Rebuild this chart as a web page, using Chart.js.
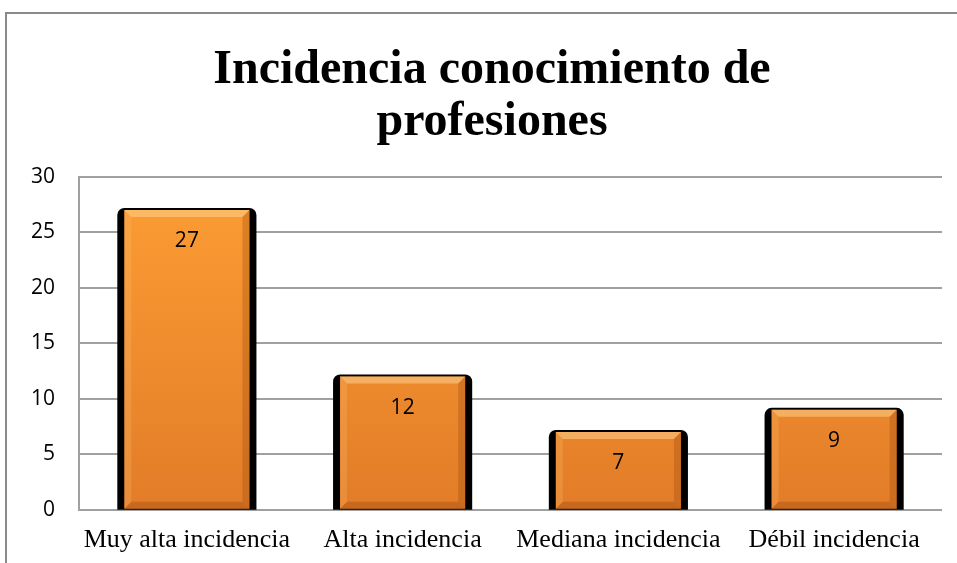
<!DOCTYPE html>
<html>
<head>
<meta charset="utf-8">
<script src="https://cdn.jsdelivr.net/npm/chart.js@4/dist/chart.umd.min.js"></script>
<style>
  body { margin: 0; background: #fff; }
  #frame { position: absolute; left: 5px; top: 12px; width: 960px; height: 560px;
           border-top: 2px solid #8a8a8a; border-left: 2px solid #8a8a8a; }
  #wrap { position: absolute; left: 0; top: 0; width: 957px; height: 563px; }
</style>
</head>
<body>
<div id="frame"></div>
<div id="wrap"><canvas id="chart"></canvas></div>
<script>
const titleLines = ['Incidencia conocimiento de', 'profesiones'];
const categories = ['Muy alta incidencia', 'Alta incidencia', 'Mediana incidencia', 'Débil incidencia'];
const values = [27, 12, 7, 9];
const yTicks = [0, 5, 10, 15, 20, 25, 30];

// the title sits a little right of the canvas centre
const titleShift = {
    id: 'titleShift',
    afterLayout(chart) {
        if (chart.titleBlock) chart.titleBlock.left += 22;
    }
};

// black shadow behind bars, bevel on top, value labels
const barStyle = {
    id: 'barStyle',
    beforeDatasetsDraw(chart) {
        const ctx = chart.ctx;
        chart.getDatasetMeta(0).data.forEach(bar => {
            const p = bar.getProps(['x', 'y', 'base', 'width'], true);
            const l = p.x - p.width / 2 - 7, r = p.x + p.width / 2 + 7;
            ctx.save();
            ctx.fillStyle = '#000';
            ctx.beginPath();
            ctx.roundRect(l, p.y - 2, r - l, p.base - p.y + 3, [7, 7, 0, 0]);
            ctx.fill();
            ctx.restore();
        });
    },
    afterDatasetsDraw(chart) {
        const ctx = chart.ctx;
        chart.getDatasetMeta(0).data.forEach((bar, i) => {
            const p = bar.getProps(['x', 'y', 'base', 'width'], true);
            const l = p.x - p.width / 2, r = p.x + p.width / 2;
            const t = p.y, b = p.base, d = 7;
            ctx.save();
            // top bevel
            ctx.fillStyle = 'rgba(255,215,150,0.5)';
            ctx.beginPath();
            ctx.moveTo(l, t); ctx.lineTo(r, t); ctx.lineTo(r - d, t + d); ctx.lineTo(l + d, t + d);
            ctx.closePath(); ctx.fill();
            // left bevel
            ctx.fillStyle = 'rgba(255,190,110,0.25)';
            ctx.beginPath();
            ctx.moveTo(l, t); ctx.lineTo(l + d, t + d); ctx.lineTo(l + d, b - d); ctx.lineTo(l, b);
            ctx.closePath(); ctx.fill();
            // right bevel
            ctx.fillStyle = 'rgba(150,70,10,0.3)';
            ctx.beginPath();
            ctx.moveTo(r, t); ctx.lineTo(r - d, t + d); ctx.lineTo(r - d, b - d); ctx.lineTo(r, b);
            ctx.closePath(); ctx.fill();
            // bottom bevel
            ctx.fillStyle = 'rgba(140,60,10,0.3)';
            ctx.beginPath();
            ctx.moveTo(l, b); ctx.lineTo(r, b); ctx.lineTo(r - d, b - d); ctx.lineTo(l + d, b - d);
            ctx.closePath(); ctx.fill();
            // value label
            ctx.fillStyle = '#000';
            ctx.font = '21px "Open Sans", "Liberation Sans", sans-serif';
            ctx.textAlign = 'center';
            ctx.textBaseline = 'middle';
            ctx.fillText(String(values[i]), p.x, t + 31);
            ctx.restore();
        });
    }
};

const ctx = document.getElementById('chart').getContext('2d');
const chart = new Chart(ctx, {
    type: 'bar',
    data: {
        labels: categories,
        datasets: [{
            data: values,
            backgroundColor: (c) => {
                const area = c.chart.chartArea;
                if (!area) return '#F39031';
                const g = c.chart.ctx.createLinearGradient(0, area.top, 0, area.bottom);
                g.addColorStop(0, '#FD9E34');
                g.addColorStop(1, '#E27C28');
                return g;
            },
            borderWidth: 0,
            barPercentage: 0.58,
            categoryPercentage: 1
        }]
    },
    options: {
        responsive: true,
        maintainAspectRatio: false,
        animation: false,
        layout: { padding: { left: 20, right: 15, top: 45, bottom: 0 } },
        plugins: {
            legend: { display: false },
            tooltip: { enabled: false },
            title: {
                display: true,
                text: titleLines,
                color: '#000',
                font: { family: '"Liberation Serif", "Times New Roman", serif', size: 48, weight: 'bold', lineHeight: 1.08 },
                padding: { top: 0, bottom: 28 }
            }
        },
        scales: {
            x: {
                grid: { display: false },
                border: { display: false },
                ticks: {
                    color: '#000',
                    font: { family: '"Liberation Serif", "Times New Roman", serif', size: 26 },
                    padding: 7,
                    maxRotation: 0
                }
            },
            y: {
                min: 0,
                max: 30,
                afterBuildTicks: (axis) => { axis.ticks = yTicks.map(v => ({ value: v })); },
                afterFit: (axis) => { axis.width = 59; },
                grid: { color: '#a0a0a0', lineWidth: 2, drawTicks: false },
                border: { display: true, color: '#a0a0a0', width: 2 },
                ticks: {
                    color: '#000',
                    font: { family: '"Open Sans", "Liberation Sans", sans-serif', size: 21 },
                    padding: 24
                }
            }
        }
    },
    plugins: [titleShift, barStyle]
});
</script>
</body>
</html>
